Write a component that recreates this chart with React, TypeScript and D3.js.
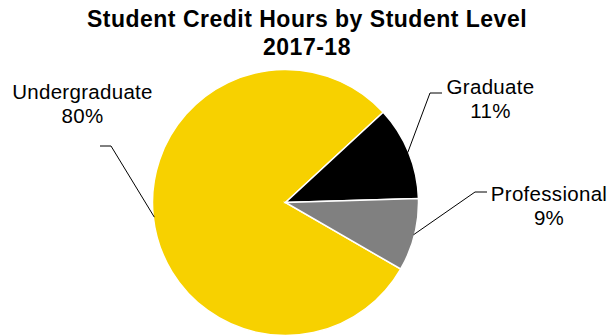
import React, { useEffect, useRef } from 'react';
import * as d3 from 'd3';

const levels = ['Undergraduate', 'Graduate', 'Professional'];
const shares = [79.8, 11.4, 8.8];
const sliceColors = ['#F7D100', '#000000', '#808080'];
const titleLines = ['Student Credit Hours by Student Level', '2017-18'];

// label anchors (text centre x, first-line baseline y) and leader line bends
const labelPos = [
  { x: 82.5, y: 99, elbow: [111, 146], end: [100, 146] },
  { x: 490.5, y: 94, elbow: [430, 93], end: [442, 93] },
  { x: 549, y: 201, elbow: [475, 192], end: [487, 192] },
];

const App: React.FC = () => {
  const svgRef = useRef<SVGSVGElement>(null);

  useEffect(() => {
    if (!svgRef.current) return;
    const svg = d3.select(svgRef.current);
    svg.selectAll('*').remove();

    const cx = 285.5;
    const cy = 202.5;
    const radius = 133;
    const font = 'Liberation Sans, Arial, sans-serif';

    const title = svg.append('text')
      .attr('text-anchor', 'middle')
      .style('font-family', font)
      .style('font-weight', 'bold')
      .style('font-size', '23px')
      .style('letter-spacing', '0.5px');
    titleLines.forEach((t, i) => {
      title.append('tspan').attr('x', 307).attr('y', 27 + i * 28).text(t);
    });

    const start = (120 * Math.PI) / 180;
    const pie = d3.pie<number>().sort(null).value(d => d)
      .startAngle(start).endAngle(start + 2 * Math.PI);
    const arcs = pie(shares);
    const arc = d3.arc<d3.PieArcDatum<number>>().innerRadius(0).outerRadius(radius);
    const outer = d3.arc<d3.PieArcDatum<number>>().innerRadius(radius).outerRadius(radius);

    const g = svg.append('g').attr('transform', `translate(${cx},${cy})`);
    g.selectAll('path')
      .data(arcs)
      .enter()
      .append('path')
      .attr('d', arc)
      .style('fill', (_d, i) => sliceColors[i])
      .style('stroke', '#fff')
      .style('stroke-width', 1.5);

    // leader lines: from arc edge to elbow to short horizontal
    arcs.forEach((a, i) => {
      const [ox, oy] = outer.centroid(a);
      const p = labelPos[i];
      const ang = Math.atan2(oy, ox);
      const sx = cx + ox - Math.cos(ang) * 1;
      const sy = cy + oy - Math.sin(ang) * 1;
      svg.append('path')
        .attr('d', `M${sx},${sy}L${p.elbow[0]},${p.elbow[1]}L${p.end[0]},${p.end[1]}`)
        .style('fill', 'none')
        .style('stroke', '#000')
        .style('stroke-width', 1);
    });

    const fmt = d3.format('.0f');
    levels.forEach((name, i) => {
      const t = svg.append('text')
        .attr('text-anchor', 'middle')
        .style('font-family', font)
        .style('font-size', '20.5px')
        .style('letter-spacing', '0.3px');
      t.append('tspan').attr('x', labelPos[i].x).attr('y', labelPos[i].y).text(name);
      t.append('tspan').attr('x', labelPos[i].x).attr('y', labelPos[i].y + 24).text(`${fmt(shares[i])}%`);
    });
  }, []);

  return (
    <svg ref={svgRef} width={609} height={336}
      style={{ position: 'absolute', left: 0, top: 0, background: '#fff' }} />
  );
};

export default App;
